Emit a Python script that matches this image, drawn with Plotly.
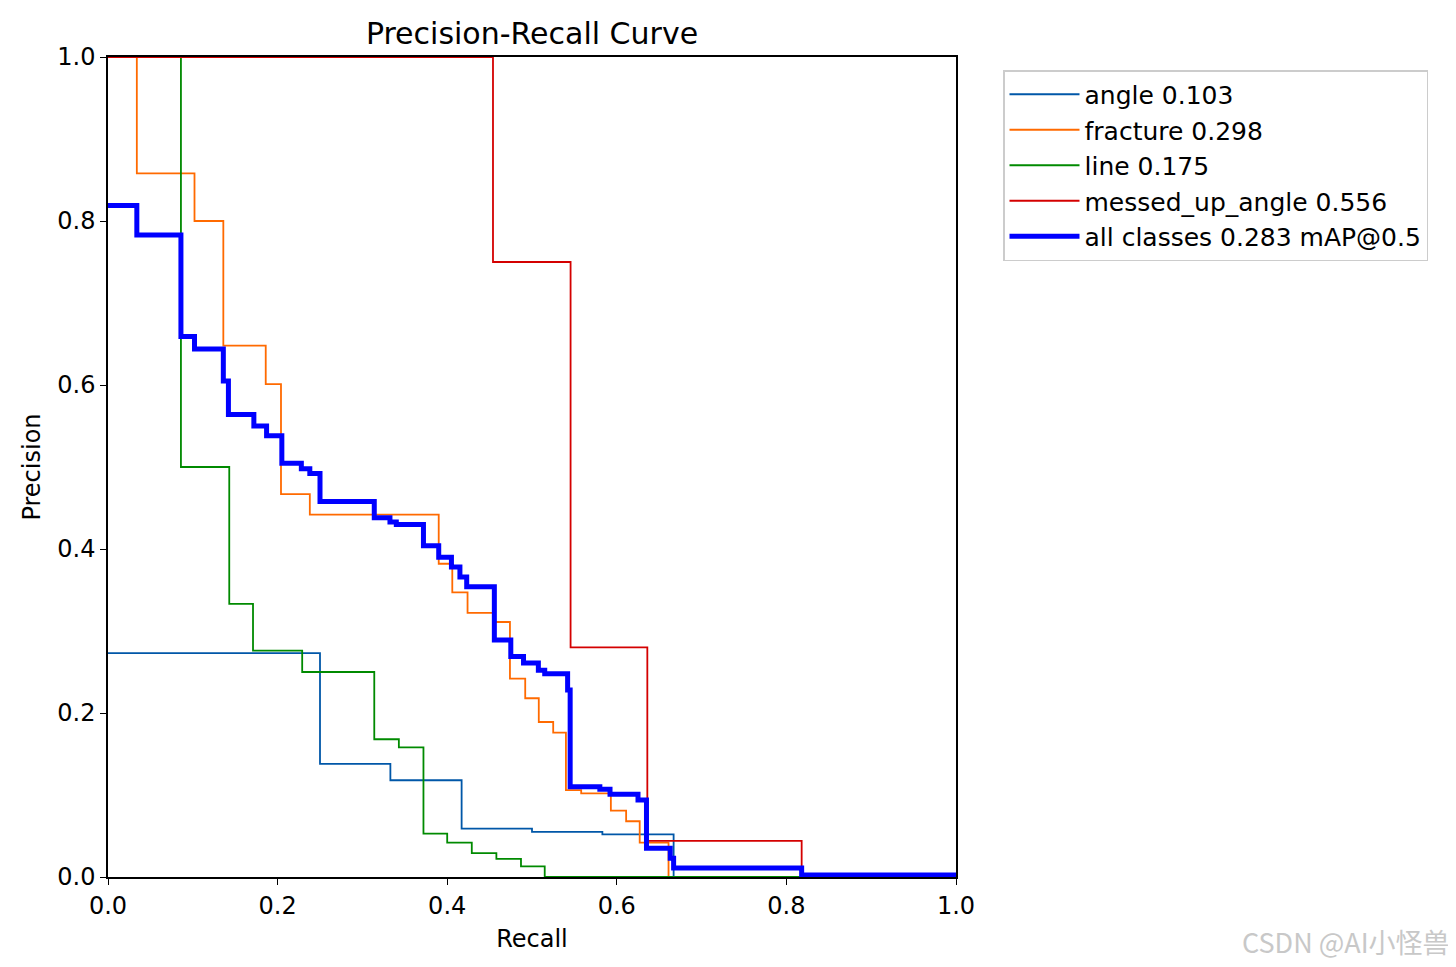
import plotly.graph_objects as go

# step curves (recall, precision)
angle_r = [0.0, 0.25, 0.333, 0.417, 0.5, 0.583, 0.667, 1.0]
angle_p = [0.273, 0.138, 0.118, 0.059, 0.055, 0.052, 0.0, 0.0]

fracture_r = [0.0, 0.034, 0.102, 0.136, 0.186, 0.204, 0.238, 0.390, 0.406, 0.424,
              0.454, 0.474, 0.492, 0.508, 0.525, 0.540, 0.558, 0.593, 0.611, 0.627,
              0.661, 1.0]
fracture_p = [1.0, 0.858, 0.800, 0.648, 0.601, 0.467, 0.442, 0.382, 0.347, 0.322,
              0.311, 0.242, 0.218, 0.189, 0.176, 0.106, 0.102, 0.081, 0.068, 0.042,
              0.0, 0.0]

line_r = [0.0, 0.086, 0.143, 0.171, 0.229, 0.314, 0.343, 0.372, 0.400, 0.429,
          0.458, 0.487, 0.515, 1.0]
line_p = [1.0, 0.500, 0.333, 0.276, 0.250, 0.168, 0.158, 0.053, 0.042, 0.029,
          0.022, 0.013, 0.0, 0.0]

messed_r = [0.0, 0.454, 0.5455, 0.636, 0.818, 1.0]
messed_p = [1.0, 0.750, 0.280, 0.044, 0.0, 0.0]

all_r = [0.0, 0.034, 0.086, 0.102, 0.136, 0.142, 0.172, 0.187, 0.205, 0.228,
         0.238, 0.250, 0.314, 0.3325, 0.340, 0.372, 0.390, 0.405, 0.415, 0.423,
         0.4556, 0.475, 0.490, 0.5075, 0.515, 0.542, 0.545, 0.580, 0.592, 0.625,
         0.635, 0.663, 0.667, 0.818, 1.0]
all_p = [0.819, 0.783, 0.659, 0.644, 0.605, 0.564, 0.550, 0.538, 0.5045, 0.498,
         0.492, 0.458, 0.438, 0.433, 0.430, 0.404, 0.390, 0.378, 0.366, 0.354,
         0.289, 0.269, 0.261, 0.252, 0.248, 0.228, 0.110, 0.107, 0.101, 0.094,
         0.035, 0.023, 0.011, 0.0025, 0.0025]

names = ["angle 0.103", "fracture 0.298", "line 0.175", "messed_up_angle 0.556",
         "all classes 0.283 mAP@0.5"]

fig = go.Figure()
curves = [(angle_r, angle_p, "#0057a8", 1.8),
          (fracture_r, fracture_p, "#ff6a00", 1.8),
          (line_r, line_p, "#008a00", 1.8),
          (messed_r, messed_p, "#d40000", 1.8),
          (all_r, all_p, "#0000ff", 5)]
for (r, p, c, w), n in zip(curves, names):
    fig.add_trace(go.Scatter(x=r, y=p, mode="lines", name=n,
                             line=dict(color=c, width=w, shape="hv")))

ax = dict(range=[0, 1], tickvals=[0, 0.2, 0.4, 0.6, 0.8, 1.0], tickformat=".1f",
          showline=True, linecolor="black", linewidth=1.5, mirror=True,
          ticks="outside", ticklen=6, tickcolor="black", showgrid=False,
          zeroline=False, tickfont=dict(size=24, color="black"))

# page has an 8px body margin, so the figure is drawn 8px in from the corner
fig.update_layout(
    width=1448, height=959,
    margin=dict(l=100, r=500, t=49, b=90),
    plot_bgcolor="white", paper_bgcolor="white",
    font=dict(family="DejaVu Sans", size=24, color="black"),
    title=dict(text="Precision-Recall Curve", x=(100 + 948) / 2 / 1448, xanchor="center",
               y=1 - 25 / 959, yanchor="middle", font=dict(size=30)),
    xaxis=dict(ax, title=dict(text="Recall", font=dict(size=24), standoff=12)),
    yaxis=dict(ax, title=dict(text="Precision", font=dict(size=24), standoff=10)),
    legend=dict(x=(995 - 100) / 848, y=1 - (62 - 49) / 820, xanchor="left", yanchor="top",
                bordercolor="#cccccc", borderwidth=1.5, font=dict(size=25),
                tracegroupgap=0, itemwidth=70),
    annotations=[dict(text="CSDN @AI小怪兽", xref="paper", yref="paper",
                      x=(1444 - 100) / 848, y=-(933 - 869) / 820,
                      xanchor="right", yanchor="middle", showarrow=False,
                      font=dict(family="Noto Sans CJK SC", size=27, color="#c8c8c8"))],
)

fig.write_html("out.html")
